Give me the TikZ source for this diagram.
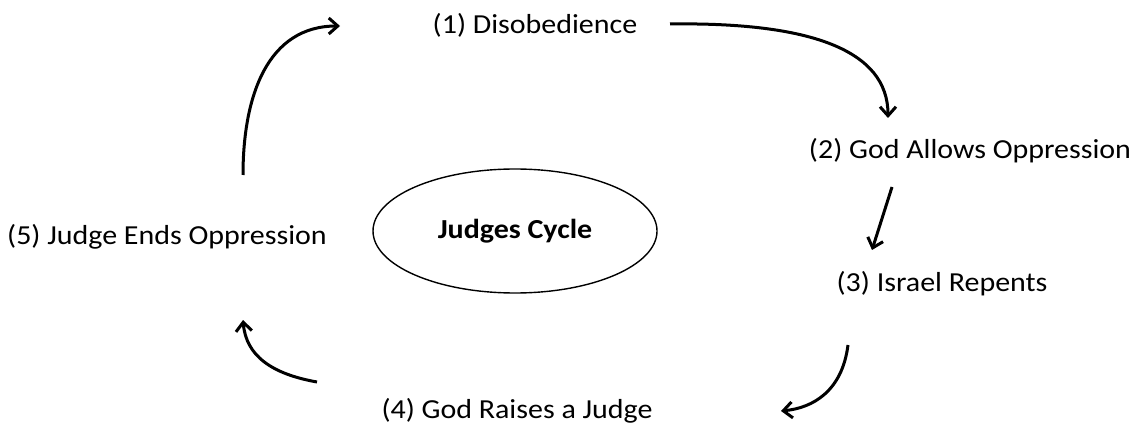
\documentclass[tikz,border=0pt]{standalone}
\usepackage{fontspec}
\setmainfont{Carlito}[FakeStretch=1.09]
\usepackage{tikz}
\usetikzlibrary{positioning, arrows.meta, shapes.geometric}

\tikzset{
  stage/.style={font=\fontsize{27.5}{32}\selectfont, inner sep=0pt},
  cyclearrow/.style={line width=3pt, black, -{Straight Barb[length=9pt, width=16pt, line width=3pt]}}
}

\begin{document}
\begin{tikzpicture}[x=1pt, y=-1pt]
  \useasboundingbox (0,0) rectangle (1142,430);

  % centre
  \node[draw, ellipse, line width=1.4pt, minimum width=284pt, minimum height=124pt,
        font=\fontsize{27.5}{32}\selectfont\bfseries] (cycle) at (515,231) {Judges Cycle};

  % the five stages
  \node[stage] (disob) at (535,25) {(1) Disobedience};
  \node[stage] (oppr) at (970,151) {(2) God Allows Oppression};
  \node[stage] (repent) at (942,284) {(3) Israel Repents};
  \node[stage] (raise) at (517,411) {(4) God Raises a Judge};
  \node[stage] (ends) at (167,237) {(5) Judge Ends Oppression};

  % arrow ends
  \coordinate (a1s) at (243,175);
  \coordinate (a1e) at (340,26);
  \coordinate (a2s) at (670,24);
  \coordinate (a2e) at (888,118);
  \coordinate (a3s) at (892,187);
  \coordinate (a3e) at (872,250);
  \coordinate (a4s) at (848,345);
  \coordinate (a4e) at (781,411);
  \coordinate (a5s) at (317,382);
  \coordinate (a5e) at (243,320);

  \draw[cyclearrow] (a1s) .. controls (243,95) and (268,26) .. (a1e);
  \draw[cyclearrow] (a2s) .. controls (810,22) and (888,50) .. (a2e);
  \draw[cyclearrow] (a3s) -- (a3e);
  \draw[cyclearrow] (a4s) .. controls (842,392) and (812,408) .. (a4e);
  \draw[cyclearrow] (a5s) .. controls (272,374) and (246,356) .. (a5e);

\end{tikzpicture}
\end{document}
